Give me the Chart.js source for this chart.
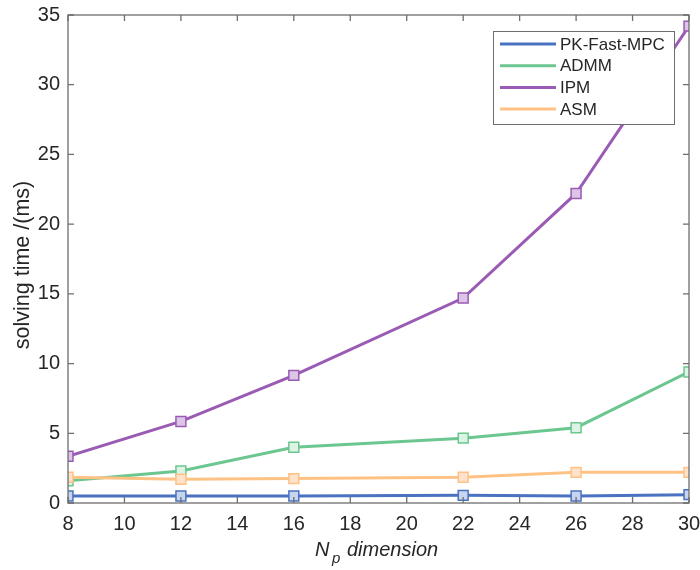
<!DOCTYPE html>
<html><head><meta charset="utf-8">
<script src="https://cdn.jsdelivr.net/npm/chart.js@4/dist/chart.umd.min.js"></script>
<style>html,body{margin:0;padding:0;background:#fff}#wrap{width:700px;height:570px}</style>
</head><body><div id="wrap"><canvas id="c" width="700" height="570"></canvas></div>
<script>
const npValues = [8, 12, 16, 22, 26, 30];
const seriesNames = ['PK-Fast-MPC', 'ADMM', 'IPM', 'ASM'];
const pkFastMpc = [0.5, 0.5, 0.5, 0.55, 0.5, 0.6];
const admm = [1.6, 2.3, 4.0, 4.65, 5.4, 9.4];
const ipm = [3.35, 5.85, 9.15, 14.7, 22.2, 34.2];
const asm = [1.85, 1.7, 1.75, 1.85, 2.2, 2.2];
const xTicks = [8, 10, 12, 14, 16, 18, 20, 22, 24, 26, 28, 30];
const yTicks = [0, 5, 10, 15, 20, 25, 30, 35];

const lineColors = ['#4a72c0', '#6cc690', '#9a5bb4', '#ffc285'];
const fillColors = ['#c9d4ee', '#ddf3e5', '#dcc6e8', '#ffe2cc'];
const allSeries = [pkFastMpc, admm, ipm, asm];
const FONT = '"Liberation Sans", Arial, sans-serif';

const datasets = allSeries.map((s, i) => ({
  label: seriesNames[i],
  data: npValues.map((x, j) => ({x: x, y: s[j]})),
  borderColor: lineColors[i],
  backgroundColor: fillColors[i],
  pointBackgroundColor: fillColors[i],
  pointBorderColor: lineColors[i],
  pointBorderWidth: 1.5,
  pointStyle: 'rect',
  pointRadius: 7,
  borderWidth: 3,
  tension: 0
}));
datasets[0].order = 0; datasets[3].order = 1; datasets[1].order = 2; datasets[2].order = 3;

const boxPlugin = {
  id: 'box',
  afterDraw(chart) {
    const ctx = chart.ctx, a = chart.chartArea;
    const xs = chart.scales.x, ys = chart.scales.y;
    ctx.save();
    ctx.strokeStyle = '#6e6e6e';
    ctx.lineWidth = 1.3;
    ctx.strokeRect(a.left, a.top, a.right - a.left, a.bottom - a.top);
    ctx.beginPath();
    xTicks.forEach(v => {
      const px = xs.getPixelForValue(v);
      ctx.moveTo(px, a.bottom); ctx.lineTo(px, a.bottom - 6);
      ctx.moveTo(px, a.top); ctx.lineTo(px, a.top + 6);
    });
    yTicks.forEach(v => {
      const py = ys.getPixelForValue(v);
      ctx.moveTo(a.left, py); ctx.lineTo(a.left + 6, py);
      ctx.moveTo(a.right, py); ctx.lineTo(a.right - 6, py);
    });
    ctx.stroke();
    // legend
    const lx = 493, ly = 31, lw = 181, lh = 93;
    ctx.fillStyle = '#fff';
    ctx.fillRect(lx, ly, lw, lh);
    ctx.strokeStyle = '#6e6e6e';
    ctx.lineWidth = 1;
    ctx.strokeRect(lx + 0.5, ly + 0.5, lw, lh);
    chart.data.datasets.forEach((d, i) => {
      const y = 44 + i * 21.7;
      ctx.strokeStyle = d.borderColor;
      ctx.lineWidth = 3;
      ctx.beginPath(); ctx.moveTo(500, y); ctx.lineTo(556, y); ctx.stroke();
      ctx.fillStyle = '#262626';
      ctx.font = '17px ' + FONT;
      ctx.textAlign = 'left'; ctx.textBaseline = 'middle';
      ctx.fillText(d.label, 560, y + 1);
    });
    // x title with subscript
    ctx.fillStyle = '#262626';
    ctx.textBaseline = 'alphabetic';
    ctx.textAlign = 'left';
    ctx.font = 'italic 20px ' + FONT;
    ctx.fillText('N', 315, 556);
    ctx.font = 'italic 15px ' + FONT;
    ctx.fillText('p', 332, 563);
    ctx.font = 'italic 20px ' + FONT;
    ctx.fillText('dimension', 347, 556);
    // y title
    ctx.save();
    ctx.translate(23, 265);
    ctx.rotate(-Math.PI / 2);
    ctx.textAlign = 'center';
    ctx.textBaseline = 'middle';
    ctx.font = '21.5px ' + FONT;
    ctx.fillText('solving time /(ms)', 0, 0);
    ctx.restore();
    ctx.restore();
  }
};

new Chart(document.getElementById('c'), {
  type: 'line',
  data: { datasets: datasets },
  options: {
    responsive: false,
    animation: false,
    layout: { padding: { top: 15, right: 11, left: 0, bottom: 0 } },
    plugins: { legend: { display: false }, tooltip: { enabled: false } },
    scales: {
      x: {
        type: 'linear', min: 8, max: 30,
        afterBuildTicks(s) { s.ticks = xTicks.map(v => ({value: v})); },
        afterFit(s) { s.height = 67; s.paddingLeft = 0; s.paddingRight = 0; },
        grid: { display: false, drawTicks: false },
        border: { display: false },
        ticks: { color: '#262626', font: { family: FONT, size: 20 }, padding: 9, maxRotation: 0, autoSkip: false }
      },
      y: {
        type: 'linear', min: 0, max: 35,
        afterBuildTicks(s) { s.ticks = yTicks.map(v => ({value: v})); },
        afterFit(s) { s.width = 68; s.paddingTop = 0; s.paddingBottom = 0; },
        grid: { display: false, drawTicks: false },
        border: { display: false },
        ticks: { color: '#262626', font: { family: FONT, size: 20 }, padding: 8 }
      }
    }
  },
  plugins: [boxPlugin]
});
</script>
</body></html>
